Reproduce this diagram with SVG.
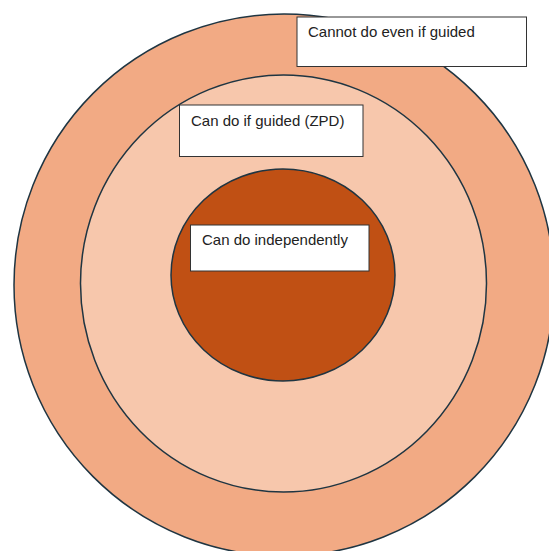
<svg xmlns="http://www.w3.org/2000/svg" width="549" height="551" viewBox="0 0 549 551">
<style>
.ring{stroke:#1f3542;stroke-width:1.5}
.box{fill:#ffffff;stroke:#333333;stroke-width:1}
.lbl{font-family:"Liberation Sans",Arial,sans-serif;font-size:15px;fill:#222222}
</style>
<rect width="549" height="551" fill="#ffffff"/>
<g id="outer">
<ellipse class="ring" cx="284" cy="285" rx="270" ry="271" fill="#f2aa84"/>
</g>
<g id="middle">
<ellipse class="ring" cx="283.5" cy="283.5" rx="203" ry="208.5" fill="#f7c7ac"/>
</g>
<g id="inner">
<ellipse class="ring" cx="283" cy="275" rx="112" ry="106" fill="#c05014"/>
</g>
<g id="label-cannot">
<rect class="box" x="297" y="17" width="229.5" height="49.5"/>
<text class="lbl" x="308" y="37">Cannot do even if guided</text>
</g>
<g id="label-zpd">
<rect class="box" x="179.5" y="105" width="183.5" height="51.5"/>
<text class="lbl" x="191" y="126">Can do if guided (ZPD)</text>
</g>
<g id="label-independent">
<rect class="box" x="190.5" y="225" width="178.5" height="46"/>
<text class="lbl" x="202" y="245">Can do independently</text>
</g>
<g id="connectors"/>
</svg>
